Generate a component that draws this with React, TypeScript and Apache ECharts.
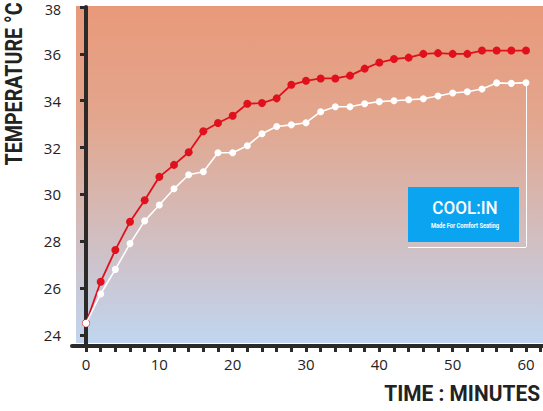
import React, { useEffect, useRef } from "react";
import * as echarts from "echarts";

const minutes = [0, 2, 4, 6, 8, 10, 12, 14, 16, 18, 20, 22, 24, 26, 28, 30, 32, 34, 36, 38, 40, 42, 44, 46, 48, 50, 52, 54, 56, 58, 60];
const redTemps = [24.5, 26.27, 27.63, 28.83, 29.75, 30.75, 31.26, 31.8, 32.7, 33.05, 33.36, 33.87, 33.9, 34.1, 34.68, 34.85, 34.95, 34.95, 35.07, 35.37, 35.63, 35.78, 35.84, 36.0, 36.03, 36.0, 36.0, 36.14, 36.14, 36.14, 36.14];
const whiteTemps = [24.5, 25.75, 26.8, 27.9, 28.87, 29.55, 30.24, 30.84, 30.97, 31.78, 31.78, 32.08, 32.59, 32.9, 32.97, 33.06, 33.53, 33.74, 33.74, 33.87, 33.96, 34.0, 34.04, 34.08, 34.2, 34.33, 34.38, 34.5, 34.76, 34.74, 34.77];
const yTicks = [24, 26, 28, 30, 32, 34, 36, 38];
const xLabelValues = [0, 10, 20, 30, 40, 50, 60];
const xTickValues = [0, 2, 4, 6, 8, 10, 12, 14, 16, 18, 20, 22, 24, 26, 28, 30, 32, 34, 36, 38, 40, 42, 44, 46, 48, 50, 52, 54, 56, 58, 60, 62];
const yTitle = "TEMPERATURE °C";
const xTitle = "TIME : MINUTES";
const logoTitle = "COOL:IN";
const logoSub = "Made For Comfort Seating";
// annotation connector end (data coords)
const connectorBottom = 27.76;
const connectorLeft = 43.9;

const AXIS = "#2b2a28";
const TITLE_FONT = "Roboto, 'Liberation Sans', sans-serif";

export default function App() {
  const ref = useRef<HTMLDivElement>(null);
  useEffect(() => {
    if (!ref.current) return;
    const chart = echarts.init(ref.current, undefined, { renderer: "svg" });
    const lastIdx = minutes.length - 1;
    const lastX = minutes[lastIdx];
    const lastY = whiteTemps[lastIdx];
    const topTick = yTicks[yTicks.length - 1];
    chart.setOption({
      animation: false,
      backgroundColor: "#ffffff",
      grid: { left: 72, right: 0, top: 7, bottom: 65, outerBoundsMode: "none", containLabel: false },
      xAxis: {
        type: "value",
        min: -1.91,
        max: 62.32,
        axisLine: { show: true, lineStyle: { color: AXIS, width: 4 } },
        axisTick: { show: true, length: 6, customValues: xTickValues, lineStyle: { color: AXIS, width: 3 } },
        axisLabel: { customValues: xLabelValues, margin: 10, color: "#222", fontSize: 15, fontFamily: "'Open Sans', sans-serif" },
        splitLine: { show: false },
      },
      yAxis: {
        type: "value",
        min: 23.53,
        max: 38,
        axisLine: { show: true, lineStyle: { color: AXIS, width: 4 } },
        axisTick: { show: true, length: 6, customValues: yTicks, lineStyle: { color: AXIS, width: 3 } },
        axisLabel: {
          customValues: yTicks,
          margin: 11,
          color: "#222",
          fontSize: 15,
          fontFamily: "'Open Sans', sans-serif",
          formatter: (v: number) => (v === topTick ? `{t|${v}}` : `${v}`),
          rich: {
            t: { fontSize: 14, lineHeight: 14, padding: [5, 0, 0, 0], color: "#222", fontFamily: "'Open Sans', sans-serif" },
          },
        },
        splitLine: { show: false },
      },
      graphic: [
        {
          type: "rect",
          z: -10,
          shape: { x: 76, y: 6, width: 467, height: 337 },
          style: {
            fill: new echarts.graphic.LinearGradient(0, 0, 0, 1, [
              { offset: 0, color: "#e9997a" },
              { offset: 0.35, color: "#e2a78f" },
              { offset: 0.6, color: "#d6b8b3" },
              { offset: 0.8, color: "#cbc6d2" },
              { offset: 1, color: "#c0d6ef" },
            ]),
          },
          silent: true,
        },
        {
          type: "text",
          x: 14,
          y: 84,
          rotation: Math.PI / 2,
          scaleX: 0.82,
          style: {
            text: yTitle,
            fill: "#222",
            font: `bold 24px ${TITLE_FONT}`,
            textAlign: "center",
            textVerticalAlign: "middle",
          },
        },
        {
          type: "text",
          x: 540,
          y: 393,
          scaleX: 0.95,
          style: {
            text: xTitle,
            fill: "#222",
            font: `bold 22px ${TITLE_FONT}`,
            textAlign: "right",
            textVerticalAlign: "middle",
          },
        },
        {
          type: "rect",
          z: 10,
          shape: { x: 408, y: 187, width: 111, height: 55 },
          style: { fill: "#0aa4f0" },
        },
        {
          type: "text",
          z: 11,
          x: 465,
          y: 208,
          scaleX: 0.95,
          style: {
            text: logoTitle,
            fill: "#ffffff",
            font: `500 18px ${TITLE_FONT}`,
            textAlign: "center",
            textVerticalAlign: "middle",
          },
        },
        {
          type: "text",
          z: 11,
          x: 465,
          y: 226,
          scaleX: 0.82,
          style: {
            text: logoSub,
            fill: "#ffffff",
            font: `bold 7px ${TITLE_FONT}`,
            textAlign: "center",
            textVerticalAlign: "middle",
          },
        },
      ],
      series: [
        {
          type: "line",
          data: minutes.map((m, i) => [m, redTemps[i]]),
          symbol: "circle",
          symbolSize: 8,
          lineStyle: { color: "#e0101c", width: 1.8 },
          itemStyle: { color: "#e0101c" },
          z: 3,
        },
        {
          type: "line",
          data: minutes.map((m, i) => [m, whiteTemps[i]]),
          symbol: "circle",
          symbolSize: 7,
          lineStyle: { color: "#ffffff", width: 1.6 },
          itemStyle: { color: "#ffffff" },
          z: 4,
          markLine: {
            silent: true,
            symbol: "none",
            label: { show: false },
            lineStyle: { color: "#ffffff", width: 1, type: "solid" },
            data: [
              [{ coord: [lastX, lastY] }, { coord: [lastX, connectorBottom] }],
              [{ coord: [lastX, connectorBottom] }, { coord: [connectorLeft, connectorBottom] }],
            ],
          },
        },
      ],
    });
    return () => chart.dispose();
  }, []);
  return <div ref={ref} style={{ width: 543, height: 411, position: "absolute", left: 0, top: 0 }} />;
}
